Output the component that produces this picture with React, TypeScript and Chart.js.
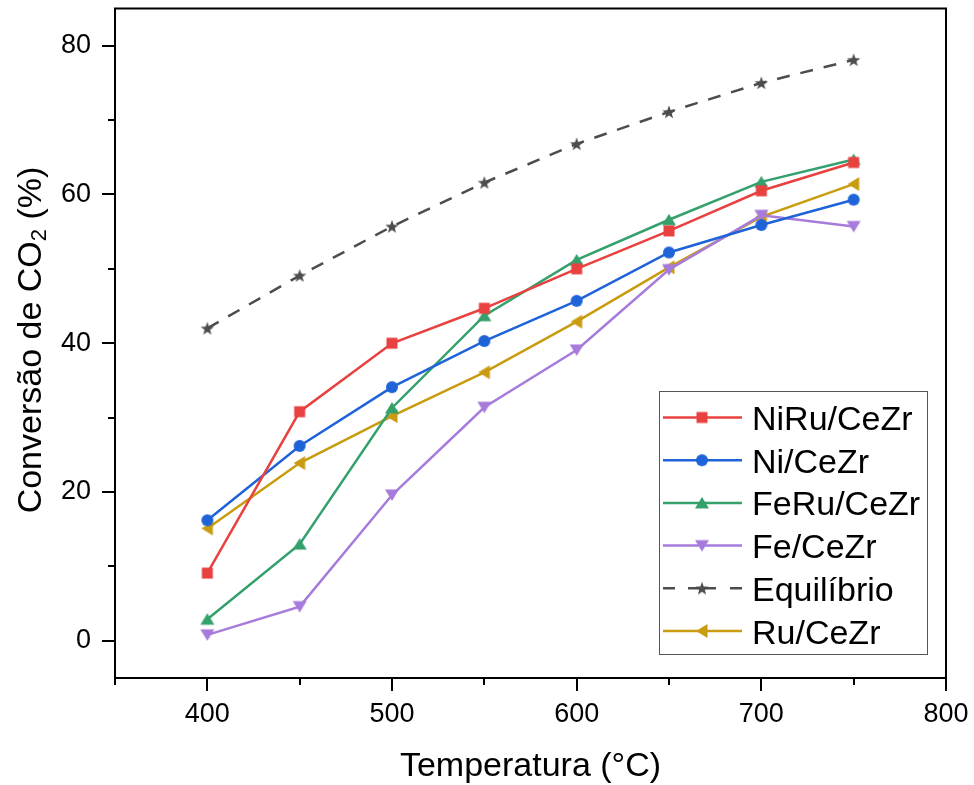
import React, { useEffect, useRef } from 'react';
import { Chart, registerables } from 'chart.js';

Chart.register(...registerables);

// Reaction temperatures (°C)
const temperatures = [400, 450, 500, 550, 600, 650, 700, 750];

// CO2 conversion (%) for each catalyst
const niRuCeZr = [9.1, 30.8, 40.0, 44.7, 50.0, 55.1, 60.5, 64.3];
const niCeZr = [16.2, 26.2, 34.1, 40.3, 45.7, 52.2, 55.9, 59.3];
const feRuCeZr = [2.9, 13.0, 31.3, 43.7, 51.2, 56.6, 61.7, 64.7];
const feCeZr = [0.8, 4.6, 19.6, 31.4, 39.1, 49.9, 57.2, 55.7];
const equilibrio = [42.0, 49.1, 55.7, 61.6, 66.8, 71.1, 75.0, 78.1];
const ruCeZr = [15.1, 23.9, 30.2, 36.1, 42.9, 50.2, 57.0, 61.4];

const seriesNames = ['NiRu/CeZr', 'Ni/CeZr', 'FeRu/CeZr', 'Fe/CeZr', 'Equilíbrio', 'Ru/CeZr'];

// Axis ticks
const xMajorTicks = [400, 500, 600, 700, 800];
const xMinorTicks = [350, 450, 550, 650, 750];
const yMajorTicks = [0, 20, 40, 60, 80];
const yMinorTicks = [10, 30, 50, 70];

const xTitle = 'Temperatura (°C)';
const yTitleMain = 'Conversão de CO';
const yTitleSub = '2';
const yTitleTail = ' (%)';

const FONT = '"Liberation Sans", Arial, Helvetica, sans-serif';

type Shape = 'square' | 'circle' | 'up' | 'down' | 'left' | 'star';

function makeMarker(shape: Shape, color: string): HTMLCanvasElement {
  const size = 16;
  const c = document.createElement('canvas');
  c.width = size;
  c.height = size;
  const g = c.getContext('2d') as CanvasRenderingContext2D;
  g.fillStyle = color;
  g.beginPath();
  const m = size / 2;
  switch (shape) {
    case 'square':
      g.rect(m - 5.5, m - 5.5, 11, 11);
      break;
    case 'circle':
      g.arc(m, m, 6, 0, Math.PI * 2);
      break;
    case 'up':
      g.moveTo(m, m - 6);
      g.lineTo(m + 7, m + 5.5);
      g.lineTo(m - 7, m + 5.5);
      break;
    case 'down':
      g.moveTo(m, m + 6);
      g.lineTo(m + 7, m - 5.5);
      g.lineTo(m - 7, m - 5.5);
      break;
    case 'left':
      g.moveTo(m - 6, m);
      g.lineTo(m + 5.5, m - 7);
      g.lineTo(m + 5.5, m + 7);
      break;
    case 'star': {
      const outer = 7;
      const inner = 2.9;
      for (let i = 0; i < 10; i++) {
        const r = i % 2 === 0 ? outer : inner;
        const a = -Math.PI / 2 + (i * Math.PI) / 5;
        const px = m + r * Math.cos(a);
        const py = m + 0.6 + r * Math.sin(a);
        if (i === 0) g.moveTo(px, py);
        else g.lineTo(px, py);
      }
      break;
    }
  }
  g.closePath();
  g.fill();
  return c;
}

const seriesColors = ['#E8413F', '#1F63D8', '#34A06C', '#A77BDC', '#4D4D4D', '#C99C10'];
const seriesShapes: Shape[] = ['square', 'circle', 'up', 'down', 'star', 'left'];
const seriesValues = [niRuCeZr, niCeZr, feRuCeZr, feCeZr, equilibrio, ruCeZr];
const dashedSeries = [false, false, false, false, true, false];

export default function App() {
  const canvasRef = useRef<HTMLCanvasElement | null>(null);

  useEffect(() => {
    const canvas = canvasRef.current;
    if (!canvas) return;

    const markers = seriesShapes.map((s, i) => makeMarker(s, seriesColors[i]));

    const datasets = seriesValues.map((vals, i) => ({
      label: seriesNames[i],
      data: temperatures.map((t, k) => ({ x: t, y: vals[k] })),
      borderColor: seriesColors[i],
      backgroundColor: seriesColors[i],
      borderWidth: 2.5,
      borderDash: dashedSeries[i] ? [13, 11] : [],
      pointStyle: markers[i],
      pointRadius: 6,
      tension: 0,
      fill: false,
    }));

    const zeroPadding = (scale: any) => {
      scale.paddingTop = 0;
      scale.paddingBottom = 0;
      scale.paddingLeft = 0;
      scale.paddingRight = 0;
    };

    const decorations = {
      id: 'decorations',
      beforeDraw(chart: any) {
        const ctx = chart.ctx;
        ctx.save();
        ctx.fillStyle = '#ffffff';
        ctx.fillRect(0, 0, chart.width, chart.height);
        ctx.restore();
      },
      afterDraw(chart: any) {
        const ctx: CanvasRenderingContext2D = chart.ctx;
        const area = chart.chartArea;
        const xs = chart.scales.x;
        const ys = chart.scales.y;

        ctx.save();
        // frame
        ctx.strokeStyle = '#000';
        ctx.lineWidth = 2;
        ctx.strokeRect(area.left, area.top, area.right - area.left, area.bottom - area.top);

        // tick marks (outward)
        ctx.beginPath();
        xMajorTicks.forEach((v) => {
          const px = Math.round(xs.getPixelForValue(v));
          ctx.moveTo(px, area.bottom);
          ctx.lineTo(px, area.bottom + 13);
        });
        xMinorTicks.forEach((v) => {
          const px = Math.round(xs.getPixelForValue(v));
          ctx.moveTo(px, area.bottom);
          ctx.lineTo(px, area.bottom + 7);
        });
        yMajorTicks.forEach((v) => {
          const py = Math.round(ys.getPixelForValue(v));
          ctx.moveTo(area.left, py);
          ctx.lineTo(area.left - 13, py);
        });
        yMinorTicks.forEach((v) => {
          const py = Math.round(ys.getPixelForValue(v));
          ctx.moveTo(area.left, py);
          ctx.lineTo(area.left - 7, py);
        });
        ctx.stroke();

        // x axis title
        ctx.fillStyle = '#000';
        ctx.font = `34px ${FONT}`;
        ctx.textAlign = 'center';
        ctx.textBaseline = 'alphabetic';
        ctx.fillText(xTitle, (area.left + area.right) / 2, 776);

        // y axis title with subscript
        ctx.save();
        ctx.translate(41, 340);
        ctx.rotate(-Math.PI / 2);
        ctx.textAlign = 'left';
        const big = `34px ${FONT}`;
        const small = `22px ${FONT}`;
        ctx.font = big;
        const w1 = ctx.measureText(yTitleMain).width;
        const w3 = ctx.measureText(yTitleTail).width;
        ctx.font = small;
        const w2 = ctx.measureText(yTitleSub).width;
        let tx = -(w1 + w2 + w3) / 2;
        ctx.font = big;
        ctx.fillText(yTitleMain, tx, 0);
        tx += w1;
        ctx.font = small;
        ctx.fillText(yTitleSub, tx, 5);
        tx += w2;
        ctx.font = big;
        ctx.fillText(yTitleTail, tx, 0);
        ctx.restore();

        // legend box
        const lx = 659.5;
        const ly = 391.5;
        const lw = 268;
        const lh = 263;
        ctx.fillStyle = '#ffffff';
        ctx.fillRect(lx, ly, lw, lh);
        ctx.strokeStyle = '#555555';
        ctx.lineWidth = 1;
        ctx.strokeRect(lx, ly, lw, lh);

        const rowGap = 42.7;
        const firstBaseline = 430;
        seriesNames.forEach((name, i) => {
          const base = firstBaseline + i * rowGap;
          const cy = base - 12.5;
          ctx.strokeStyle = seriesColors[i];
          ctx.lineWidth = 2.5;
          ctx.beginPath();
          if (dashedSeries[i]) {
            ctx.moveTo(663, cy);
            ctx.lineTo(675, cy);
            ctx.moveTo(688, cy);
            ctx.lineTo(700, cy);
            ctx.moveTo(704, cy);
            ctx.lineTo(716, cy);
            ctx.moveTo(730, cy);
            ctx.lineTo(742, cy);
          } else {
            ctx.moveTo(663, cy);
            ctx.lineTo(742, cy);
          }
          ctx.stroke();
          const mk = markers[i];
          ctx.drawImage(mk, 702 - mk.width / 2, cy - mk.height / 2);
          ctx.fillStyle = '#000';
          ctx.font = `34px ${FONT}`;
          ctx.textAlign = 'left';
          ctx.textBaseline = 'alphabetic';
          ctx.fillText(name, 752, base);
        });
        ctx.restore();
      },
    };

    const chart = new Chart(canvas, {
      type: 'line',
      data: { datasets },
      options: {
        animation: false,
        responsive: false,
        devicePixelRatio: 1,
        layout: { padding: { left: 0, top: 8, right: 28, bottom: 0 } },
        plugins: {
          legend: { display: false },
          tooltip: { enabled: false },
        },
        scales: {
          x: {
            type: 'linear',
            position: 'bottom',
            min: 350,
            max: 800,
            grid: { display: false, drawTicks: false },
            border: { display: false },
            ticks: {
              autoSkip: false,
              maxRotation: 0,
              padding: 20,
              color: '#000',
              font: { family: FONT, size: 27 },
            },
            afterBuildTicks: (scale: any) => {
              scale.ticks = xMajorTicks.map((v) => ({ value: v }));
            },
            afterFit: (scale: any) => {
              scale.height = 107;
              zeroPadding(scale);
            },
          },
          y: {
            type: 'linear',
            position: 'left',
            min: -5,
            max: 85,
            grid: { display: false, drawTicks: false },
            border: { display: false },
            ticks: {
              autoSkip: false,
              padding: 24,
              color: '#000',
              font: { family: FONT, size: 27 },
            },
            afterBuildTicks: (scale: any) => {
              scale.ticks = yMajorTicks.map((v) => ({ value: v }));
            },
            afterFit: (scale: any) => {
              scale.width = 115;
              zeroPadding(scale);
            },
          },
        },
      },
      plugins: [decorations],
    } as any);

    return () => {
      chart.destroy();
    };
  }, []);

  return (
    <div style={{ position: 'absolute', left: 0, top: 0, width: 974, height: 785, background: '#fff' }}>
      <canvas ref={canvasRef} width={974} height={785} style={{ display: 'block' }} />
    </div>
  );
}
